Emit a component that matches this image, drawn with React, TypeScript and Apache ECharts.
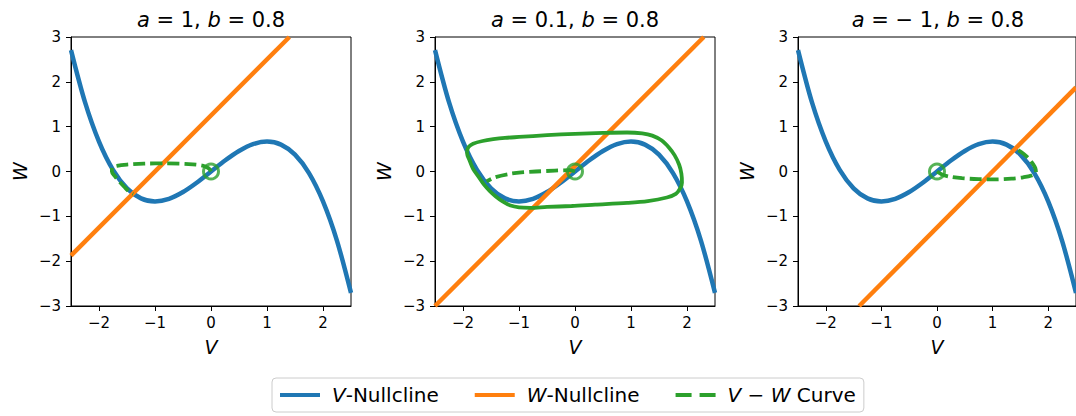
import React, { useEffect, useRef } from 'react';
import * as echarts from 'echarts';

// ---- data ----
const paramA = ['1', '0.1', '− 1'];
const paramB = ['0.8', '0.8', '0.8'];
const xTicks = [-2, -1, 0, 1, 2];

// V-nullcline (same in every panel)
const vNullV = [-2.5, -2.25, -2.0, -1.75, -1.5, -1.25, -1.0, -0.75, -0.5, -0.25, 0, 0.25, 0.5, 0.75, 1.0, 1.25, 1.5, 1.75, 2.0, 2.25, 2.5];
const vNullW = [2.708, 1.547, 0.667, 0.036, -0.375, -0.599, -0.667, -0.609, -0.458, -0.245, 0, 0.245, 0.458, 0.609, 0.667, 0.599, 0.375, -0.036, -0.667, -1.547, -2.708];

// W-nullclines (end points inside the frame)
const wNull1 = [[-2.5, -1.875], [1.4, 3]];
const wNull2 = [[-2.5, -3], [2.3, 3]];
const wNull3 = [[-1.4, -3], [2.5, 1.875]];

// V-W trajectories
const traj1 = [[0, 0], [-0.04, 0.07], [-0.15, 0.13], [-0.4, 0.165], [-0.8, 0.18], [-1.2, 0.175], [-1.5, 0.155], [-1.68, 0.125], [-1.77, 0.08], [-1.77, 0.0], [-1.72, -0.1], [-1.64, -0.22], [-1.55, -0.34], [-1.45, -0.46], [-1.39, -0.5]];
const traj2 = [[0, 0], [-0.1, 0.03], [-0.36, 0.02], [-0.7, 0.0], [-0.96, -0.02], [-1.2, -0.06], [-1.43, -0.13], [-1.58, -0.22]];
const cycle2 = [[-1.93, 0.45], [-1.9, 0.55], [-1.82, 0.62], [-1.65, 0.68], [-1.46, 0.72], [-1.25, 0.75], [-1.0, 0.77], [-0.5, 0.81], [0.0, 0.84], [0.5, 0.86], [0.93, 0.87], [1.2, 0.85], [1.38, 0.8], [1.55, 0.69], [1.68, 0.53], [1.78, 0.36], [1.86, 0.15], [1.9, -0.05], [1.91, -0.25], [1.88, -0.37], [1.8, -0.5], [1.64, -0.58], [1.3, -0.66], [0.93, -0.7], [0.36, -0.74], [-0.06, -0.77], [-0.5, -0.79], [-0.8, -0.81], [-1.0, -0.8], [-1.15, -0.76], [-1.3, -0.66], [-1.42, -0.55], [-1.52, -0.44], [-1.62, -0.3], [-1.72, -0.12], [-1.82, 0.06], [-1.88, 0.24], [-1.92, 0.36], [-1.93, 0.45]];
const traj3 = [[0, 0], [0.08, -0.06], [0.21, -0.11], [0.45, -0.15], [0.75, -0.17], [1.05, -0.175], [1.34, -0.16], [1.55, -0.13], [1.7, -0.09], [1.78, -0.02], [1.77, 0.07], [1.73, 0.16], [1.67, 0.26], [1.6, 0.35], [1.52, 0.43], [1.45, 0.48], [1.39, 0.49]];
const startPoint = [[0, 0]];

const legendNames = ['V-Nullcline', 'W-Nullcline', 'V − W Curve'];

const BLUE = '#1f77b4';
const ORANGE = '#ff7f0e';
const GREEN = '#2ca02c';
const FONT = 'DejaVu Sans';

const gridLefts = [71, 435, 798];
const GRID_TOP = 37;
const GRID_W = 280;
const GRID_H = 269;

const minus = (v: number) => (v < 0 ? '−' + Math.abs(v) : String(v));

function buildOption() {
  const vNull = vNullV.map((v, i) => [v, vNullW[i]]);
  const wNulls = [wNull1, wNull2, wNull3];
  const trajs = [traj1, traj2, traj3];

  const grids = gridLefts.map((l) => ({
    left: l, top: GRID_TOP, width: GRID_W, height: GRID_H,
    show: true, borderColor: '#000', borderWidth: 1, backgroundColor: 'transparent',
  }));

  const axisCommon = {
    axisLine: { show: true, onZero: false, lineStyle: { color: '#000', width: 1 } },
    axisTick: { show: true, length: 5, lineStyle: { color: '#000', width: 1 } },
    splitLine: { show: false },
    nameTextStyle: { fontFamily: FONT, fontSize: 19, fontStyle: 'italic', color: '#000' },
  };

  const xAxes = gridLefts.map((_, i) => ({
    ...axisCommon,
    type: 'value', gridIndex: i, min: -2.5, max: 2.5,
    name: 'V', nameLocation: 'middle', nameGap: 31,
    axisTick: { ...axisCommon.axisTick, customValues: xTicks },
    axisLabel: { customValues: xTicks, formatter: minus, fontFamily: FONT, fontSize: 15, color: '#000', margin: 9 },
  }));
  const yAxes = gridLefts.map((_, i) => ({
    ...axisCommon,
    type: 'value', gridIndex: i, min: -3, max: 3, interval: 1,
    name: 'W', nameLocation: 'middle', nameGap: 42,
    axisLabel: { formatter: minus, fontFamily: FONT, fontSize: 15, color: '#000', margin: 10 },
  }));

  const series: any[] = [];
  gridLefts.forEach((_, i) => {
    series.push({
      name: legendNames[0], type: 'line', xAxisIndex: i, yAxisIndex: i, data: vNull,
      smooth: 0.3, symbol: 'none', lineStyle: { color: BLUE, width: 4.5 }, itemStyle: { color: BLUE }, z: 2,
    });
    series.push({
      name: legendNames[1], type: 'line', xAxisIndex: i, yAxisIndex: i, data: wNulls[i],
      symbol: 'none', lineStyle: { color: ORANGE, width: 4.5 }, itemStyle: { color: ORANGE }, z: 3,
    });
    if (i === 1) {
      series.push({
        name: 'cycle', type: 'line', xAxisIndex: i, yAxisIndex: i, data: cycle2,
        smooth: 0.3, symbol: 'none', lineStyle: { color: GREEN, width: 3.8 }, itemStyle: { color: GREEN }, z: 4,
      });
    }
    series.push({
      name: legendNames[2], type: 'line', xAxisIndex: i, yAxisIndex: i, data: trajs[i],
      smooth: 0.3, symbol: 'none', lineStyle: { color: GREEN, width: 3.8, type: [12, 5] }, itemStyle: { color: GREEN }, z: 4,
    });
    series.push({
      name: 'start', type: 'scatter', xAxisIndex: i, yAxisIndex: i, data: startPoint,
      symbol: 'circle', symbolSize: 15,
      itemStyle: { color: 'rgba(0,0,0,0)', borderColor: GREEN, borderWidth: 3 }, z: 5,
    });
  });

  const titleRich = {
    i: { fontFamily: FONT, fontSize: 21, fontStyle: 'italic', fill: '#000' },
    n: { fontFamily: FONT, fontSize: 21, fill: '#000' },
  };
  const graphics = gridLefts.map((l, i) => ({
    type: 'text',
    x: l + GRID_W / 2, y: 20,
    style: {
      text: `{i|a}{n| = ${paramA[i]}, }{i|b}{n| = ${paramB[i]}}`,
      rich: titleRich,
      fontFamily: FONT, fontSize: 21, fill: '#000',
      align: 'center', verticalAlign: 'middle',
    },
  }));

  const solidIcon = 'path://M0 0H40V4H0Z';
  const dashIcon = 'path://M0 0H16V4H0ZM24 0H40V4H24Z';

  return {
    animation: false,
    backgroundColor: '#fff',
    grid: grids,
    xAxis: xAxes,
    yAxis: yAxes,
    series,
    graphic: graphics,
    legend: {
      data: [
        { name: legendNames[0], icon: solidIcon },
        { name: legendNames[1], icon: solidIcon },
        { name: legendNames[2], icon: dashIcon },
      ],
      left: 272, top: 378,
      itemWidth: 40, itemHeight: 4, itemGap: 36,
      padding: [7, 8, 7, 8],
      borderColor: '#cccccc', borderWidth: 1, borderRadius: 4,
      backgroundColor: '#fff',
      textStyle: {
        fontFamily: FONT, fontSize: 20, color: '#000', padding: [0, 0, 0, 7],
        rich: {
          i: { fontFamily: FONT, fontSize: 20, fontStyle: 'italic', color: '#000' },
          n: { fontFamily: FONT, fontSize: 20, color: '#000' },
        },
      },
      formatter: (name: string) => {
        if (name === legendNames[0]) return '{i|V}{n|-Nullcline}';
        if (name === legendNames[1]) return '{i|W}{n|-Nullcline}';
        return '{i|V}{n| − }{i|W}{n| Curve}';
      },
    },
  };
}

export default function App() {
  const ref = useRef<HTMLDivElement>(null);
  useEffect(() => {
    if (!ref.current) return;
    const chart = echarts.init(ref.current, null, { renderer: 'svg' });
    chart.setOption(buildOption() as any);
    return () => chart.dispose();
  }, []);
  return (
    <div
      ref={ref}
      style={{ position: 'fixed', left: 0, top: 0, width: 1076, height: 416, background: '#fff' }}
    />
  );
}
